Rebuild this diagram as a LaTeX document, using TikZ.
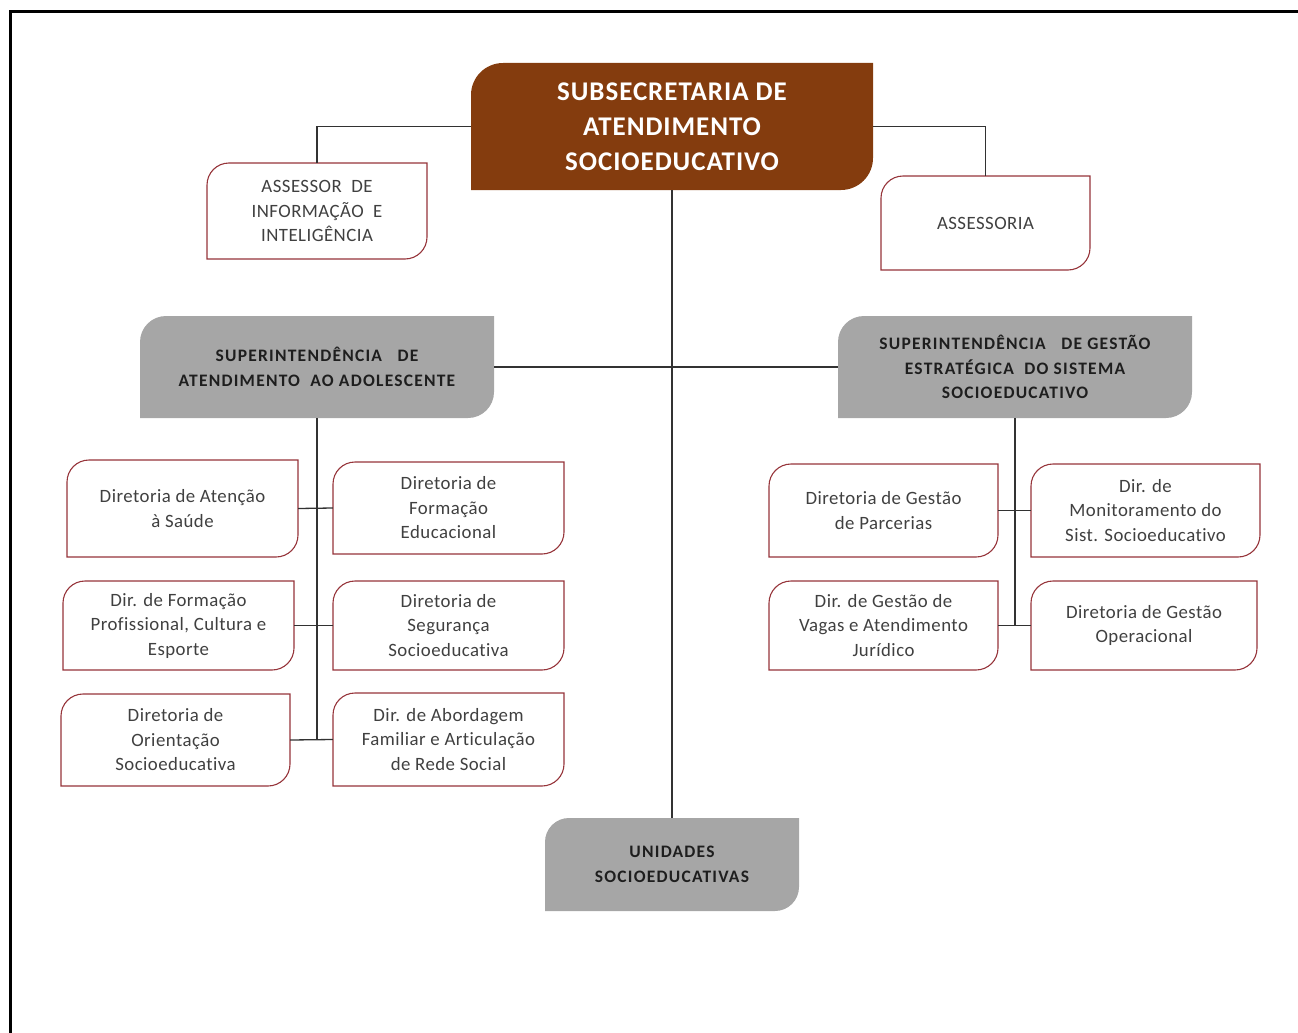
\documentclass[tikz,border=0pt]{standalone}
\usepackage{fontspec}
\setmainfont{Carlito}
\newfontfamily\regfont[LetterSpace=2.5,Ligatures=NoCommon]{Carlito}
\newfontfamily\mainfont[LetterSpace=3.5,Ligatures=NoCommon]{Carlito}
\newfontfamily\supfont[LetterSpace=7,Ligatures=NoCommon]{Carlito}
\definecolor{mainbrown}{RGB}{132,60,14}
\definecolor{supgray}{RGB}{166,166,166}
\definecolor{boxred}{RGB}{150,52,58}
\definecolor{txtgray}{RGB}{64,64,64}
\definecolor{txtdark}{RGB}{30,30,30}
\definecolor{linegray}{RGB}{50,50,50}
\newcommand\obox[9]{%
  \path[#7] (#2,{(#3+#5)/2}) [rounded corners=#6] -- (#2,#3) -- ({(#2+#4)/2},#3) [sharp corners] -- (#4,#3) -- (#4,{(#3+#5)/2}) [rounded corners=#6] -- (#4,#5) -- ({(#2+#4)/2},#5) [sharp corners] -- (#2,#5) -- cycle;
  \node[#8, minimum width={(#4-#2)*1pt}, minimum height={(#5-#3)*1pt}, inner sep=0pt] (#1) at ({(#2+#4)/2},{(#3+#5)/2}) {#9};
}
\tikzset{
  mainshape/.style={fill=mainbrown},
  maintext/.style={align=center, text=white, font=\mainfont\fontsize{27}{35}\selectfont\bfseries},
  supshape/.style={fill=supgray},
  suptext/.style={align=center, text=txtdark, font=\supfont\fontsize{17.5}{24.5}\selectfont\bfseries},
  wshape/.style={draw=boxred, line width=1.1pt, fill=white},
  wtext/.style={align=center, text=txtgray, font=\regfont\fontsize{18.8}{24.5}\selectfont},
  conn/.style={draw=linegray, line width=1.3pt},
}
\begin{document}
\begin{tikzpicture}[x=1pt,y=-1pt]
\useasboundingbox (0,0) rectangle (1298,1033);
\draw[line width=3pt] (10.5,1033) -- (10.5,12) -- (1298,12);

\obox{main}{471}{63}{873}{190}{32pt}{mainshape}{maintext}{SUBSECRETARIA DE\\ATENDIMENTO\\SOCIOEDUCATIVO}
\obox{assessor}{207}{163}{427}{259}{22pt}{wshape}{wtext}{ASSESSOR~~DE\\INFORMAÇÃO~~E\\INTELIGÊNCIA}
\obox{assessoria}{881}{176}{1090}{270}{22pt}{wshape}{wtext}{ASSESSORIA}
\obox{supL}{140}{316}{494}{418}{26pt}{supshape}{suptext}{SUPERINTENDÊNCIA~~~DE\\ATENDIMENTO~~AO ADOLESCENTE}
\obox{supR}{838}{316}{1192}{418}{26pt}{supshape}{suptext}{SUPERINTENDÊNCIA~~~DE GESTÃO\\ESTRATÉGICA~~DO SISTEMA\\SOCIOEDUCATIVO}
\obox{unid}{545}{818}{799}{911}{24pt}{supshape}{suptext}{UNIDADES\\SOCIOEDUCATIVAS}

\obox{saude}{67}{460}{298}{557}{22pt}{wshape}{wtext}{Diretoria de Atenção\\à Saúde}
\obox{formed}{333}{462}{564}{554}{22pt}{wshape}{wtext}{Diretoria de\\Formação\\Educacional}
\obox{prof}{63}{581}{294}{670}{22pt}{wshape}{wtext}{Dir. de Formação\\Profissional, Cultura e\\Esporte}
\obox{seg}{333}{581}{564}{670}{22pt}{wshape}{wtext}{Diretoria de\\Segurança\\Socioeducativa}
\obox{orient}{61}{694}{290}{786}{22pt}{wshape}{wtext}{Diretoria de\\Orientação\\Socioeducativa}
\obox{abord}{333}{693}{564}{786}{22pt}{wshape}{wtext}{Dir. de Abordagem\\Familiar e Articulação\\de Rede Social}

\obox{parc}{769}{464}{998}{557}{22pt}{wshape}{wtext}{Diretoria de Gestão\\de Parcerias}
\obox{monit}{1031}{464}{1260}{557}{22pt}{wshape}{wtext}{Dir. de\\Monitoramento do\\Sist. Socioeducativo}
\obox{vagas}{769}{581}{998}{670}{22pt}{wshape}{wtext}{Dir. de Gestão de\\Vagas e Atendimento\\Jurídico}
\obox{oper}{1031}{581}{1257}{670}{22pt}{wshape}{wtext}{Diretoria de Gestão\\Operacional}

\draw[conn] (main.west) -| (assessor.north);
\draw[conn] (main.east) -| (assessoria.north);
\draw[conn] (main.south) -- (unid.north);
\draw[conn] (supL.east) -- (supR.west);
\draw[conn] (supL.south) -- (supL.south |- orient.east);
\draw[conn] (saude.east) -- (formed.west);
\draw[conn] (prof.east) -- (seg.west);
\draw[conn] (orient.east) -- (abord.west);
\draw[conn] (supR.south) -- (supR.south |- vagas.east);
\draw[conn] (parc.east) -- (monit.west);
\draw[conn] (vagas.east) -- (oper.west);
\end{tikzpicture}
\end{document}
